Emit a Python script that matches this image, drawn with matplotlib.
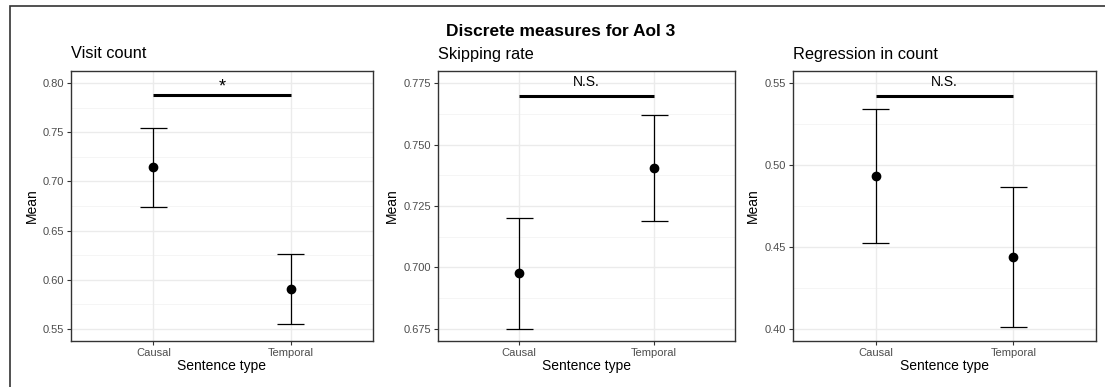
import numpy as np
import matplotlib.pyplot as plt
from matplotlib.patches import Rectangle

plt.rcParams['font.family'] = ['Liberation Sans', 'DejaVu Sans']

# dados
tipos = ['Causal', 'Temporal']
titulos = ['Visit count', 'Skipping rate', 'Regression in count']
medias = [[0.7143, 0.5907], [0.6976, 0.7405], [0.4933, 0.4439]]
superior = [[0.7543, 0.6262], [0.7200, 0.7619], [0.5341, 0.4868]]
inferior = [[0.6743, 0.5551], [0.6751, 0.7190], [0.4524, 0.4010]]
barra_sig = [0.7878, 0.7699, 0.5419]
rotulo_sig = ['*', 'N.S.', 'N.S.']
ticks_y = [[0.55, 0.60, 0.65, 0.70, 0.75, 0.80],
           [0.675, 0.700, 0.725, 0.750, 0.775],
           [0.40, 0.45, 0.50, 0.55]]
formato = ['{:.2f}', '{:.3f}', '{:.2f}']
limites = [(0.5378, 0.8122), (0.6701, 0.7799), (0.3927, 0.5573)]

W, H = 1105, 387
fig = plt.figure(figsize=(W / 100, H / 100), dpi=100)

# moldura externa
fig.patches.append(Rectangle((9.5 / W, -0.1), 1.2, (H - 6) / H + 0.1,
                             transform=fig.transFigure, fill=False,
                             edgecolor='#333333', linewidth=1.2))

posicoes = [(71, 373), (438, 735), (793, 1096)]
topo, base = 71, 341
ylabel_x = [32, 392, 753]

x = np.arange(1, len(tipos) + 1)
for i in range(3):
    l, r = posicoes[i]
    ax = fig.add_axes([l / W, 1 - base / H, (r - l) / W, (base - topo) / H])
    ax.set_xlim(0.4, 2.6)
    ax.set_ylim(*limites[i])

    yt = ticks_y[i]
    passo = yt[1] - yt[0]
    menores = [v + passo / 2 for v in yt[:-1]]
    for v in menores:
        ax.axhline(v, color='#f2f2f2', lw=0.5, zorder=0)
    for v in yt:
        ax.axhline(v, color='#ebebeb', lw=1.0, zorder=0)
    for xv in x:
        ax.axvline(xv, color='#ebebeb', lw=1.0, zorder=0)

    med = np.array(medias[i])
    sup = np.array(superior[i])
    inf = np.array(inferior[i])
    ax.errorbar(x, med, yerr=[med - inf, sup - med], fmt='o', color='black',
                ecolor='black', elinewidth=0.9, capsize=0, markersize=6, zorder=3)
    ax.hlines(sup, x - 0.1, x + 0.1, color='black', lw=0.9, zorder=3)
    ax.hlines(inf, x - 0.1, x + 0.1, color='black', lw=0.9, zorder=3)

    ax.hlines(barra_sig[i], x[0], x[1], color='black', lw=2.2, zorder=3)
    if rotulo_sig[i] == '*':
        tam, desl = 13, 0
    else:
        tam, desl = 10, 5
    ax.annotate(rotulo_sig[i], xy=(x.mean(), barra_sig[i]), xytext=(0, desl),
                textcoords='offset points', ha='center', va='bottom',
                fontsize=tam, color='black')

    ax.set_xticks(x)
    ax.set_xticklabels(tipos)
    ax.set_yticks(yt)
    ax.set_yticklabels([formato[i].format(v) for v in yt])
    ax.tick_params(axis='both', length=3, width=0.8, color='#333333',
                   labelcolor='#4d4d4d', labelsize=8, pad=2)
    for s in ax.spines.values():
        s.set_color('#333333')
        s.set_linewidth(1.0)

    ax.set_xlabel('Sentence type', fontsize=10, labelpad=1)
    fig.text(ylabel_x[i] / W, 1 - 206 / H, 'Mean', rotation=90, fontsize=10,
             ha='center', va='center')
    fig.text(l / W, 1 - 54 / H, titulos[i], fontsize=11.8, ha='left', va='center')

fig.text(561 / W, 1 - 32 / H, 'Discrete measures for AoI 3', fontsize=12.5,
         fontweight='bold', ha='center', va='center')

fig.savefig('out.png', dpi=100)
